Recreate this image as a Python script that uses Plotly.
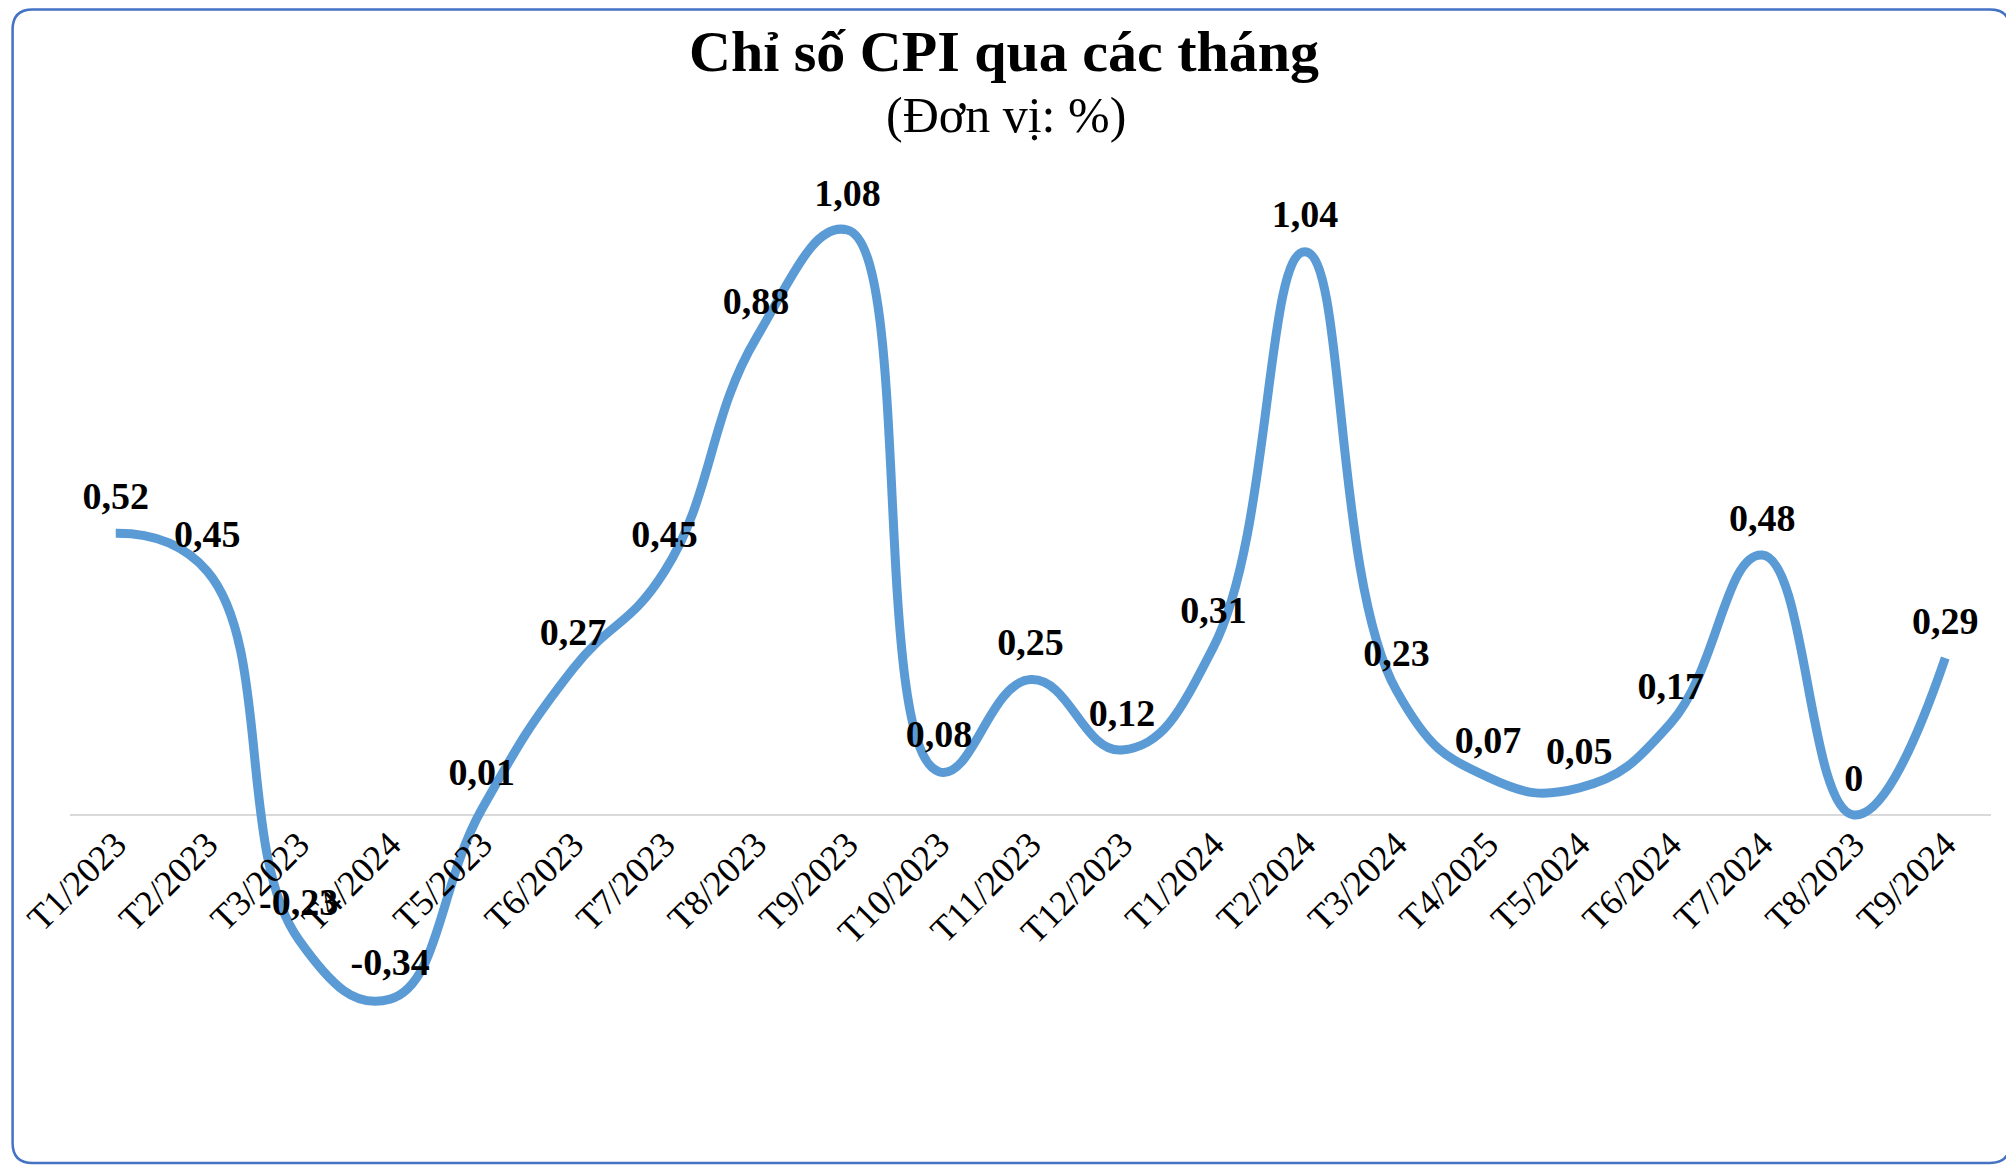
import plotly.graph_objects as go

months = ["T1/2023", "T2/2023", "T3/2023", "T4/2024", "T5/2023", "T6/2023", "T7/2023",
          "T8/2023", "T9/2023", "T10/2023", "T11/2023", "T12/2023", "T1/2024", "T2/2024",
          "T3/2024", "T4/2025", "T5/2024", "T6/2024", "T7/2024", "T8/2023", "T9/2024"]
cpi = [0.52, 0.45, -0.23, -0.34, 0.01, 0.27, 0.45, 0.88, 1.08, 0.08, 0.25,
       0.12, 0.31, 1.04, 0.23, 0.07, 0.05, 0.17, 0.48, 0, 0.29]

title = "Chỉ số CPI qua các tháng"
subtitle = "(Đơn vị: %)"

# page body adds 8px margin, so the figure is sized to fit the window
W, H = 2006, 1160
ML, MR, MT, MB = 59, 23, 157, 28
y_min, y_max = -0.6, 1.2


def px_x(x):
    return (x - ML) / (W - ML - MR)


def px_y(y):
    return (H - MB - y) / (H - MT - MB)


idx = list(range(len(months)))
labels = [f"{v:g}".replace(".", ",") for v in cpi]
serif = "Liberation Serif, Times New Roman, serif"

fig = go.Figure()
fig.add_trace(go.Scatter(
    x=idx, y=cpi, mode="lines+markers+text",
    line=dict(color="#5B9BD5", width=9, shape="spline", smoothing=1.3),
    marker=dict(size=22, opacity=0),
    text=labels, textposition="top center",
    textfont=dict(family=serif, size=38, color="black", weight="bold"),
    cliponaxis=False, hoverinfo="skip",
))

# rounded chart border
xl, xr = px_x(1.5), px_x(2002)
yt, yb = px_y(1.5), px_y(1155)
rx, ry = 20 / (W - ML - MR), 20 / (H - MT - MB)
path = (f"M {xl + rx},{yt} L {xr - rx},{yt} Q {xr},{yt} {xr},{yt - ry} "
        f"L {xr},{yb + ry} Q {xr},{yb} {xr - rx},{yb} "
        f"L {xl + rx},{yb} Q {xl},{yb} {xl},{yb + ry} "
        f"L {xl},{yt - ry} Q {xl},{yt} {xl + rx},{yt} Z")
fig.add_shape(type="path", path=path, xref="paper", yref="paper",
              line=dict(color="#4472C4", width=2.5), layer="above")

fig.add_annotation(x=px_x(994), y=px_y(43), xref="paper", yref="paper",
                   text=f"<b>{title}</b>", showarrow=False, yanchor="middle",
                   font=dict(family=serif, size=58, color="black"))
fig.add_annotation(x=px_x(996), y=px_y(107), xref="paper", yref="paper",
                   text=subtitle, showarrow=False, yanchor="middle",
                   font=dict(family=serif, size=50, color="black"))

fig.update_layout(
    width=W, height=H,
    margin=dict(l=ML, r=MR, t=MT, b=MB),
    paper_bgcolor="white", plot_bgcolor="white",
    showlegend=False,
    xaxis=dict(
        range=[-0.5, len(months) - 0.5],
        tickvals=idx, ticktext=months, tickangle=-45,
        tickfont=dict(family=serif, size=36, color="black"),
        showgrid=False, zeroline=False, showline=False, ticks="",
        anchor="free", position=(0 - y_min) / (y_max - y_min),
    ),
    yaxis=dict(
        range=[y_min, y_max], showgrid=False, showticklabels=False, ticks="",
        zeroline=True, zerolinecolor="#D9D9D9", zerolinewidth=2, showline=False,
    ),
)

fig.write_html("out.html")
